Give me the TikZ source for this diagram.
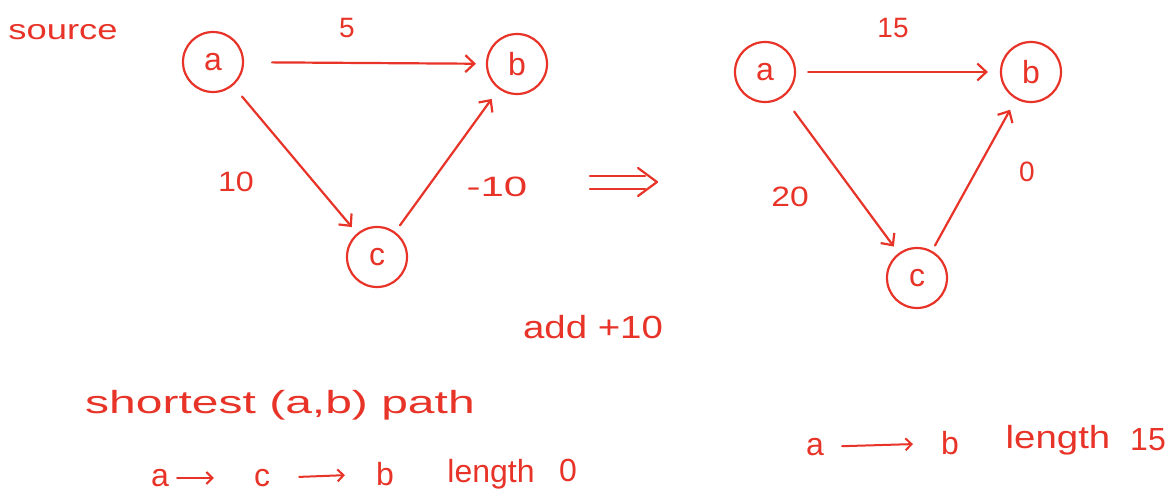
\documentclass[tikz,border=0pt]{standalone}
\usepackage{fontspec}
\usepackage{graphicx}
\setmainfont{Liberation Sans}
\usetikzlibrary{arrows.meta}
\definecolor{ink}{RGB}{232,52,40}
\tikzset{
  vtx/.style={circle, draw=ink, line width=2.2pt, minimum size=60pt, inner sep=0pt, text=ink, font=\fontsize{32}{34}\selectfont},
  edge/.style={draw=ink, line width=2.2pt, line cap=round, -{Straight Barb[length=9pt,width=17pt,line width=2.2pt]}},
  tedge/.style={draw=ink, line width=2pt, line cap=round, -{Straight Barb[length=6pt,width=12pt,line width=2pt]}},
  lbl/.style={text=ink, font=\fontsize{28}{30}\selectfont, inner sep=0pt},
  big/.style={text=ink, font=\fontsize{32}{34}\selectfont, inner sep=0pt}
}
\begin{document}
\begin{tikzpicture}[x=1pt,y=-1pt]
\useasboundingbox[fill=white] (0,0) rectangle (1173,502);
% left graph
\node[vtx] (a) at (213,62) {a};
\node[vtx] (b) at (517,64) {b};
\node[vtx] (c) at (377,257) {c};
\draw[edge, shorten <=28pt, shorten >=10pt] (a) -- (b);
\draw[edge, shorten <=14pt, shorten >=8pt] (a) -- (c);
\draw[edge, shorten <=8pt, shorten >=12pt] (c) -- (b);
\node[lbl] (w5) at (347,28) {5};
\node[lbl] (w10) at (236,182) {\scalebox{1.15}[1]{10}};
\node[lbl] (wm10) at (497,187) {\scalebox{1.5}[1]{-10}};
\node[lbl] (src) at (63,32) {\scalebox{1.3}[1]{source}};
% implies
\draw[ink, line width=2.2pt, line cap=round] (590,176) -- (645,176);
\draw[ink, line width=2.2pt, line cap=round] (590,189) -- (645,189);
\draw[ink, line width=2.2pt, line cap=round, line join=round] (638,168) -- (657,182) -- (638,196);
\node[big] (add) at (593,327) {\scalebox{1.2}[1]{add +10}};
% right graph
\node[vtx] (a2) at (765,72) {a};
\node[vtx] (b2) at (1031,72) {b};
\node[vtx] (c2) at (917,278) {c};
\draw[edge, shorten <=12pt, shorten >=12pt] (a2) -- (b2);
\draw[edge, shorten <=18pt, shorten >=8pt] (a2) -- (c2);
\draw[edge, shorten <=6pt, shorten >=12pt] (c2) -- (b2);
\node[lbl] (w15) at (893,28) {15};
\node[lbl] (w20) at (790,197) {\scalebox{1.2}[1]{20}};
\node[lbl] (w0) at (1027,172) {0};
% bottom texts
\node[big] (sp) at (280,405) {\scalebox{1.5}[1]{shortest (a,b) path}};
\node[big] (pa) at (160,478) {a};
\node[big] (pc) at (262,478) {c};
\node[big] (pb) at (385,474) {b};
\node[big] (pl) at (491,474) {length};
\node[big] (p0) at (568,470) {0};
\draw[tedge, shorten <=8pt, shorten >=40pt] (pa.east) -- (pc.west);
\draw[tedge, shorten <=29pt, shorten >=31pt] (pc.east) -- (pb.west);
\node[big] (qa) at (815,447) {a};
\node[big] (qb) at (950,443) {b};
\node[big] (ql) at (1058,440) {\scalebox{1.2}[1]{length}};
\node[big] (q15) at (1148,440) {15};
\draw[tedge, shorten <=18pt, shorten >=28pt] (qa) -- (qb);
\end{tikzpicture}
\end{document}
